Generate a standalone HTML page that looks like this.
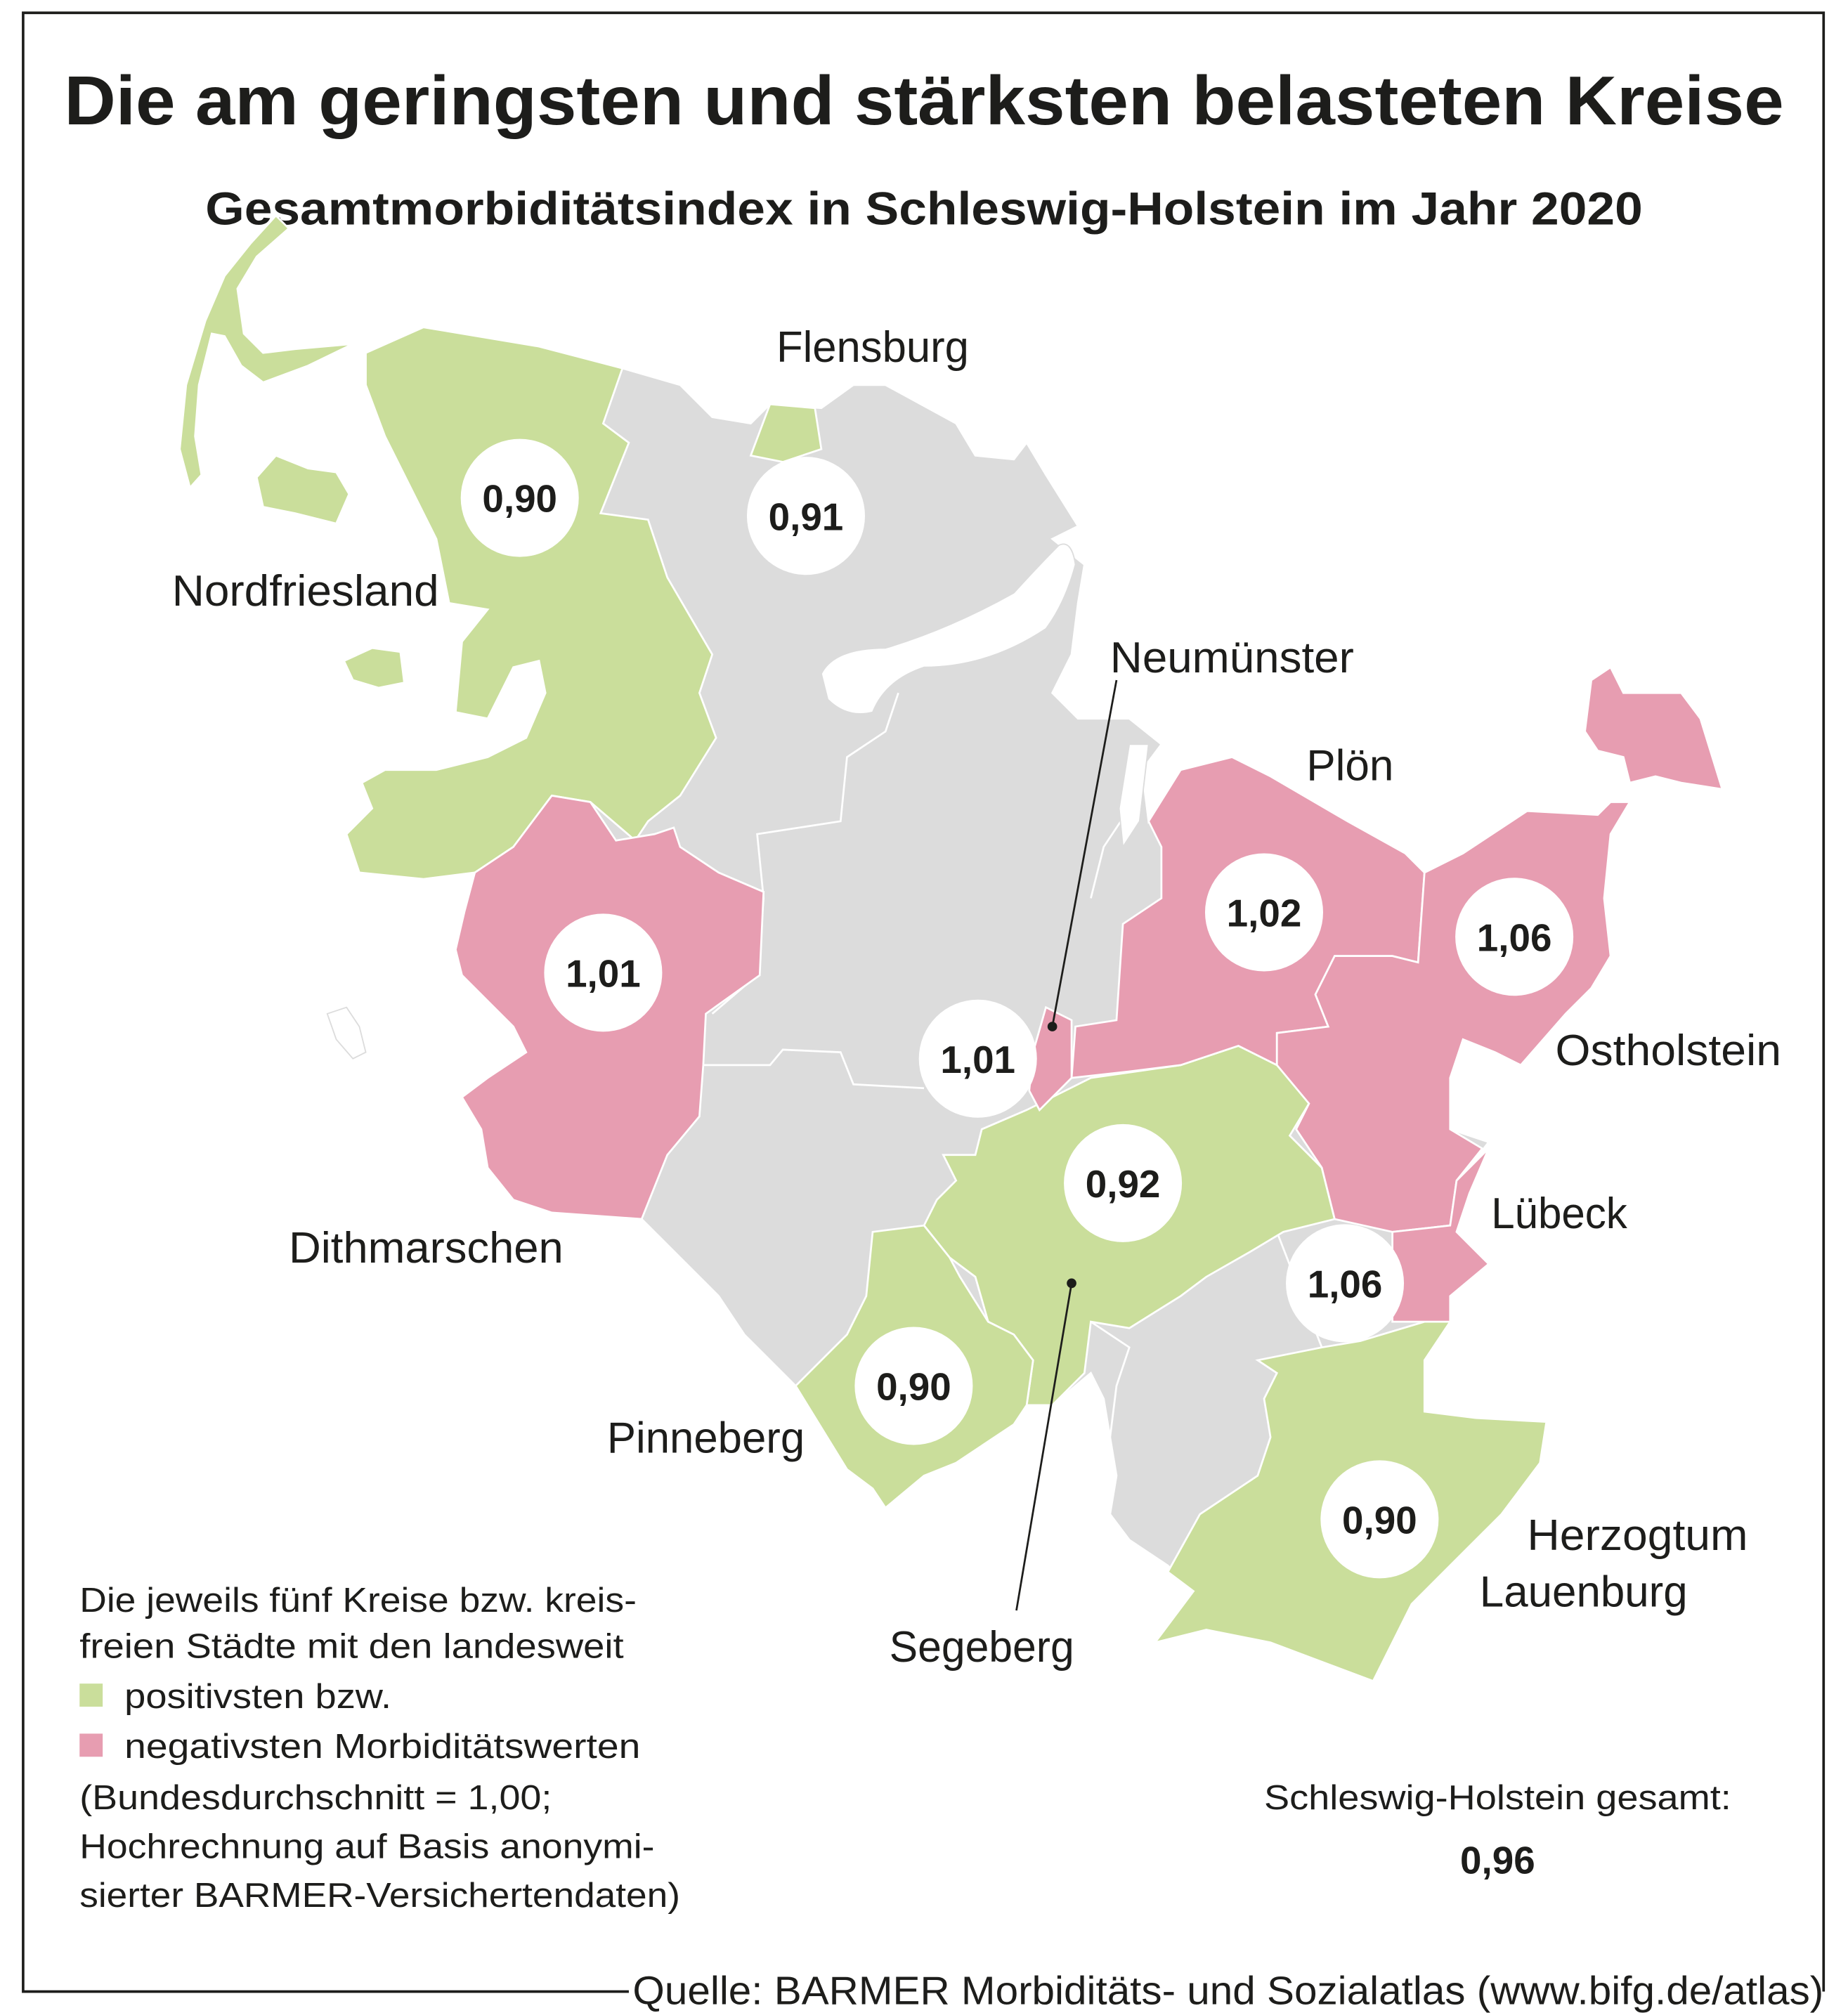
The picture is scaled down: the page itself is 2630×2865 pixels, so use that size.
<!DOCTYPE html>
<html><head><meta charset="utf-8"><style>
html,body{margin:0;padding:0;background:#fff}
svg{display:block}
text{font-family:"Liberation Sans",sans-serif;fill:#1d1d1b}
</style></head><body>
<svg width="2630" height="2865" viewBox="0 0 1440 1568.7" xmlns="http://www.w3.org/2000/svg">
<rect width="1440" height="1569" fill="#fff"/>
<path d="M490 1552 L18 1552 L18 10 L1421 10 L1421 1552" fill="none" stroke="#1d1d1b" stroke-width="2"/>
<text x="720" y="97" text-anchor="middle" font-size="54" font-weight="bold" textLength="1340" lengthAdjust="spacingAndGlyphs">Die am geringsten und stärksten belasteten Kreise</text>
<text x="720" y="175" text-anchor="middle" font-size="36" font-weight="bold" textLength="1120" lengthAdjust="spacingAndGlyphs">Gesamtmorbiditätsindex in Schleswig-Holstein im Jahr 2020</text>

<!-- mainland gray -->
<path fill="#dcdcdc" stroke="#fff" stroke-width="1.5" d="M285 275 L330 255 L372 262 L485 287 L530 300 L555 325 L585 330 L600 315 L640 318 L665 300 L690 300 L745 330 L760 355 L790 358 L800 345 L815 370 L840 410 L820 420 L845 440 L840 470 L835 510 L820 540 L840 560 L880 560 L905 580 L890 600 L895 640 L920 600 L960 590 L990 605 L1050 640 L1095 665 L1110 680 L1140 665 L1190 632 L1245 635 L1255 625 L1270 625 L1255 650 L1250 700 L1255 745 L1240 770 L1220 790 L1185 830 L1140 810 L1130 840 L1130 880 L1160 890 L1145 910 L1135 960 L1160 985 L1130 1010 L1130 1030 L1110 1060 L1110 1100 L1150 1105 L1205 1108 L1200 1140 L1170 1180 L1130 1220 L1100 1250 L1080 1290 L1070 1310 L1030 1295 L990 1280 L940 1270 L900 1280 L915 1260 L930 1240 L910 1220 L880 1200 L865 1180 L870 1150 L865 1120 L860 1090 L850 1070 L820 1095 L800 1095 L790 1110 L745 1140 L720 1150 L690 1175 L680 1160 L660 1145 L620 1080 L580 1040 L560 1010 L530 980 L500 950 L430 945 L400 935 L380 910 L375 880 L360 855 L380 840 L410 820 L400 800 L380 780 L360 760 L355 740 L362 710 L370 680 L330 685 L280 680 L270 650 L290 630 L282 610 L300 600 L340 600 L380 590 L410 575 L425 540 L420 515 L400 520 L380 560 L355 555 L360 500 L380 475 L350 470 L340 420 L320 380 L300 340 L285 300 Z"/>
<!-- inner gray borders -->
<g fill="none" stroke="#fff" stroke-width="1.5">
<path d="M548 830 L600 830 L610 818 L655 820 L665 845 L720 848"/>
<path d="M555 790 L590 760 L595 700 L590 650 L655 640 L660 590 L690 570 L700 540"/>
<path d="M850 700 L860 660 L880 630 L885 600"/>
<path d="M850 1030 L880 1050 L870 1080 L865 1120"/>
<path d="M995 960 L1030 1050"/>
</g>
<!-- water -->
<g fill="#fff" stroke="#dcdcdc" stroke-width="1">
<path d="M640 525 Q650 505 690 505 Q740 490 790 462 Q810 440 825 425 Q835 420 838 440 Q830 470 815 490 Q770 520 720 520 Q690 530 680 555 Q660 560 645 545 Z"/>
<path d="M880 580 L895 580 L888 640 L875 660 L872 630 Z"/>
<path d="M255 790 L270 785 L280 800 L285 820 L275 825 L262 810 Z"/>
</g>
<!-- green Nordfriesland -->
<g fill="#cade9b" stroke="#fff" stroke-width="1.5">
<path d="M285 275 L330 255 L372 262 L420 270 L485 287 L470 330 L490 345 L468 400 L505 405 L520 450 L555 510 L545 540 L558 575 L530 620 L505 640 L495 655 L460 625 L430 620 L400 660 L370 680 L330 685 L280 680 L270 650 L290 630 L282 610 L300 600 L340 600 L380 590 L410 575 L425 540 L420 515 L400 520 L380 560 L355 555 L360 500 L380 475 L350 470 L340 420 L320 380 L300 340 L285 300 Z"/>
<path d="M215 168 L225 178 L200 200 L185 225 L190 260 L205 275 L230 272 L275 268 L240 285 L205 298 L188 285 L175 262 L165 260 L155 300 L152 340 L157 370 L148 380 L140 350 L145 300 L160 250 L175 215 L195 190 Z"/>
<path d="M200 372 L215 355 L240 365 L262 368 L272 385 L262 408 L230 400 L205 395 Z"/>
<path d="M268 515 L290 505 L312 508 L315 532 L295 536 L275 530 Z"/>
<path d="M600 315 L635 318 L640 350 L610 360 L585 355 Z"/>
<path d="M765 880 L800 865 L850 840 L920 830 L965 815 L995 830 L1040 845 L1020 860 L1005 885 L1030 910 L1040 950 L1000 960 L975 975 L940 995 L920 1010 L880 1035 L850 1030 L845 1070 L820 1095 L800 1095 L805 1060 L790 1040 L770 1030 L760 995 L740 980 L720 955 L730 935 L745 920 L735 900 L760 900 Z"/>
<path d="M680 960 L720 955 L740 980 L748 995 L770 1030 L790 1040 L805 1060 L800 1095 L790 1110 L745 1140 L720 1150 L690 1175 L680 1160 L660 1145 L620 1080 L660 1040 L675 1010 Z"/>
<path d="M1030 1050 L1060 1045 L1110 1030 L1130 1030 L1110 1060 L1110 1100 L1150 1105 L1205 1108 L1200 1140 L1170 1180 L1130 1220 L1100 1250 L1080 1290 L1070 1310 L1030 1295 L990 1280 L940 1270 L900 1280 L915 1260 L930 1240 L910 1225 L935 1180 L980 1150 L990 1120 L985 1090 L995 1070 L980 1060 Z"/>
</g>
<!-- pink -->
<g fill="#e79db1" stroke="#fff" stroke-width="1.5">
<path d="M370 680 L400 660 L430 620 L460 625 L480 655 L510 650 L525 645 L530 660 L560 680 L595 695 L592 760 L550 790 L548 830 L545 870 L520 900 L500 950 L430 945 L400 935 L380 910 L375 880 L360 855 L380 840 L410 820 L400 800 L380 780 L360 760 L355 740 L362 710 Z"/>
<path d="M895 640 L920 600 L960 590 L990 605 L1050 640 L1095 665 L1110 680 L1105 750 L1085 745 L1040 745 L1025 775 L1035 800 L995 805 L995 830 L965 815 L920 830 L880 835 L835 840 L838 800 L870 795 L875 720 L905 700 L905 660 Z"/>
<path d="M1110 680 L1140 665 L1190 632 L1245 635 L1255 625 L1270 625 L1255 650 L1250 700 L1255 745 L1240 770 L1220 790 L1185 830 L1165 820 L1140 810 L1130 840 L1130 880 L1155 895 L1135 920 L1130 955 L1085 960 L1040 950 L1030 910 L1010 880 L1020 860 L995 830 L995 805 L1035 800 L1025 775 L1040 745 L1085 745 L1105 750 Z"/>
<path d="M1240 530 L1255 520 L1265 540 L1310 540 L1325 560 L1342 615 L1310 610 L1290 605 L1270 610 L1265 590 L1245 585 L1235 570 Z"/>
<path d="M1135 920 L1160 895 L1145 930 L1135 960 L1160 985 L1130 1010 L1130 1030 L1085 1030 L1085 960 L1130 955 Z"/>
<path d="M815 785 L835 795 L835 840 L810 865 L802 850 L805 820 Z"/>
</g>
<!-- leaders -->
<g stroke="#1d1d1b" stroke-width="1.5" fill="#1d1d1b">
<line x1="870" y1="530" x2="820" y2="800"/><circle cx="820" cy="800" r="3"/>
<line x1="792" y1="1255" x2="835" y2="1000"/><circle cx="835" cy="1000" r="3"/>
</g>
<!-- circles -->
<g fill="#fff">
<circle cx="405" cy="388" r="46"/><circle cx="628" cy="402" r="46"/><circle cx="470" cy="758" r="46"/>
<circle cx="985" cy="711" r="46"/><circle cx="1180" cy="730" r="46"/><circle cx="762" cy="825" r="46"/>
<circle cx="875" cy="922" r="46"/><circle cx="1048" cy="1000" r="46"/><circle cx="712" cy="1080" r="46"/>
<circle cx="1075" cy="1184" r="46"/>
</g>
<g font-size="30" font-weight="bold" text-anchor="middle">
<text x="405" y="399">0,90</text><text x="628" y="413">0,91</text><text x="470" y="769">1,01</text>
<text x="985" y="722">1,02</text><text x="1180" y="741">1,06</text><text x="762" y="836">1,01</text>
<text x="875" y="933">0,92</text><text x="1048" y="1011">1,06</text><text x="712" y="1091">0,90</text>
<text x="1075" y="1195">0,90</text>
</g>
<g font-size="34" text-anchor="middle">
<text x="680" y="282" textLength="150" lengthAdjust="spacingAndGlyphs">Flensburg</text>
<text x="238" y="472" textLength="208" lengthAdjust="spacingAndGlyphs">Nordfriesland</text>
<text x="960" y="524" textLength="190" lengthAdjust="spacingAndGlyphs">Neumünster</text>
<text x="1052" y="608">Plön</text>
<text x="1300" y="830" textLength="176" lengthAdjust="spacingAndGlyphs">Ostholstein</text>
<text x="1215" y="957" textLength="106" lengthAdjust="spacingAndGlyphs">Lübeck</text>
<text x="332" y="984" textLength="214" lengthAdjust="spacingAndGlyphs">Dithmarschen</text>
<text x="550" y="1132" textLength="154" lengthAdjust="spacingAndGlyphs">Pinneberg</text>
<text x="1276" y="1208" textLength="172" lengthAdjust="spacingAndGlyphs">Herzogtum</text>
<text x="1234" y="1252" textLength="162" lengthAdjust="spacingAndGlyphs">Lauenburg</text>
<text x="765" y="1295" textLength="144" lengthAdjust="spacingAndGlyphs">Segeberg</text>
</g>
<g font-size="27">
<text x="62" y="1256" textLength="434" lengthAdjust="spacingAndGlyphs">Die jeweils fünf Kreise bzw. kreis-</text>
<text x="62" y="1292" textLength="424" lengthAdjust="spacingAndGlyphs">freien Städte mit den landesweit</text>
<rect x="62" y="1312" width="18" height="18" fill="#cade9b"/>
<text x="97" y="1331" textLength="208" lengthAdjust="spacingAndGlyphs">positivsten bzw.</text>
<rect x="62" y="1351" width="18" height="18" fill="#e79db1"/>
<text x="97" y="1370" textLength="402" lengthAdjust="spacingAndGlyphs">negativsten Morbiditätswerten</text>
<text x="62" y="1410" textLength="368" lengthAdjust="spacingAndGlyphs">(Bundesdurchschnitt = 1,00;</text>
<text x="62" y="1448" textLength="448" lengthAdjust="spacingAndGlyphs">Hochrechnung auf Basis anonymi-</text>
<text x="62" y="1486" textLength="468" lengthAdjust="spacingAndGlyphs">sierter BARMER-Versichertendaten)</text>
<text x="1167" y="1410" text-anchor="middle" textLength="364" lengthAdjust="spacingAndGlyphs">Schleswig-Holstein gesamt:</text>
<text x="1167" y="1460" text-anchor="middle" font-weight="bold" font-size="30">0,96</text>
</g>
<text x="1421" y="1562" text-anchor="end" font-size="31" textLength="928" lengthAdjust="spacingAndGlyphs">Quelle: BARMER Morbiditäts- und Sozialatlas (www.bifg.de/atlas)</text>
</svg>
</body></html>
